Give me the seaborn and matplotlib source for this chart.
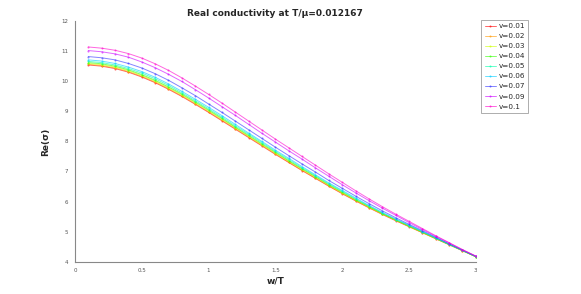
import numpy as np
import pandas as pd
import matplotlib
matplotlib.use('Agg')
import matplotlib.pyplot as plt
import seaborn as sns

# frecuencias w/T
w = [0.1, 0.2, 0.3, 0.4, 0.5, 0.6, 0.7, 0.8, 0.9, 1.0,
     1.1, 1.2, 1.3, 1.4, 1.5, 1.6, 1.7, 1.8, 1.9, 2.0,
     2.1, 2.2, 2.3, 2.4, 2.5, 2.6, 2.7, 2.8, 2.9, 3.0]

etiquetas = ['v=0.01', 'v=0.02', 'v=0.03', 'v=0.04', 'v=0.05',
             'v=0.06', 'v=0.07', 'v=0.09', 'v=0.1']

re_v001 = [10.55, 10.51, 10.43, 10.31, 10.15, 9.96, 9.74, 9.50, 9.24, 8.97,
           8.69, 8.41, 8.13, 7.85, 7.57, 7.30, 7.03, 6.77, 6.51, 6.26,
           6.02, 5.79, 5.57, 5.36, 5.16, 4.96, 4.76, 4.56, 4.36, 4.16]
re_v002 = [10.57, 10.53, 10.45, 10.33, 10.17, 9.98, 9.76, 9.52, 9.26, 8.99,
           8.71, 8.43, 8.15, 7.87, 7.59, 7.31, 7.04, 6.78, 6.52, 6.27,
           6.03, 5.80, 5.58, 5.37, 5.17, 4.96, 4.76, 4.56, 4.36, 4.16]
re_v003 = [10.60, 10.56, 10.48, 10.36, 10.20, 10.01, 9.79, 9.55, 9.29, 9.02,
           8.74, 8.46, 8.17, 7.89, 7.61, 7.34, 7.07, 6.81, 6.54, 6.29,
           6.05, 5.81, 5.59, 5.38, 5.17, 4.97, 4.77, 4.57, 4.36, 4.16]
re_v004 = [10.63, 10.59, 10.51, 10.39, 10.23, 10.04, 9.82, 9.58, 9.32, 9.05,
           8.77, 8.48, 8.20, 7.92, 7.64, 7.36, 7.09, 6.83, 6.56, 6.31,
           6.06, 5.83, 5.60, 5.39, 5.18, 4.98, 4.77, 4.57, 4.37, 4.16]
re_v005 = [10.67, 10.63, 10.55, 10.43, 10.28, 10.09, 9.87, 9.62, 9.36, 9.09,
           8.81, 8.52, 8.24, 7.96, 7.67, 7.40, 7.12, 6.86, 6.59, 6.34,
           6.09, 5.85, 5.62, 5.40, 5.20, 4.99, 4.78, 4.57, 4.37, 4.16]
re_v006 = [10.72, 10.68, 10.60, 10.48, 10.33, 10.14, 9.92, 9.67, 9.41, 9.14,
           8.86, 8.57, 8.28, 8.00, 7.71, 7.44, 7.16, 6.89, 6.62, 6.37,
           6.12, 5.87, 5.64, 5.42, 5.21, 5.00, 4.79, 4.58, 4.37, 4.17]
re_v007 = [10.83, 10.79, 10.72, 10.60, 10.45, 10.26, 10.04, 9.79, 9.53, 9.25,
           8.97, 8.68, 8.39, 8.10, 7.81, 7.53, 7.25, 6.98, 6.70, 6.44,
           6.18, 5.93, 5.69, 5.46, 5.24, 5.03, 4.81, 4.59, 4.38, 4.17]
re_v009 = [11.03, 10.99, 10.92, 10.81, 10.65, 10.46, 10.24, 10.00, 9.73, 9.45,
           9.16, 8.87, 8.57, 8.27, 7.98, 7.69, 7.41, 7.12, 6.84, 6.56,
           6.29, 6.03, 5.78, 5.54, 5.30, 5.07, 4.84, 4.62, 4.39, 4.18]
re_v010 = [11.15, 11.11, 11.04, 10.93, 10.78, 10.59, 10.37, 10.12, 9.85, 9.57,
           9.28, 8.98, 8.68, 8.38, 8.08, 7.79, 7.50, 7.21, 6.92, 6.64,
           6.36, 6.09, 5.83, 5.58, 5.34, 5.10, 4.86, 4.63, 4.40, 4.18]

series = [re_v001, re_v002, re_v003, re_v004, re_v005,
          re_v006, re_v007, re_v009, re_v010]

colores = ['#ff0000', '#ff9900', '#ccff00', '#33ff00', '#00ffaa',
           '#00ccff', '#3333ff', '#cc00ff', '#ff00cc']

# armar tabla larga
filas = []
for etq, vals in zip(etiquetas, series):
    for x, y in zip(w, vals):
        filas.append({'w': x, 'Re': y, 'v': etq})
df = pd.DataFrame(filas)

sns.set_style('white')
fig = plt.figure(figsize=(5.81, 2.94), dpi=100)
ax = fig.add_axes([0.129, 0.1105, 0.69, 0.8165])

sns.lineplot(data=df, x='w', y='Re', hue='v', hue_order=etiquetas,
             palette=dict(zip(etiquetas, colores)), marker='.', markersize=3,
             markeredgewidth=0, linewidth=0.7, alpha=0.6, ax=ax, legend=False)

ax.set_xlim(0, 3)
ax.set_ylim(4, 12)
ax.set_xticks([0, 0.5, 1, 1.5, 2, 2.5, 3])
ax.set_xticklabels(['0', '0.5', '1', '1.5', '2', '2.5', '3'])
ax.set_yticks(range(4, 13))
ax.tick_params(axis='both', direction='out', length=3, width=0.6,
               labelsize=4, colors='#555555', pad=2)
for lado in ['top', 'right']:
    ax.spines[lado].set_visible(False)
for lado in ['left', 'bottom']:
    ax.spines[lado].set_color('#888888')
    ax.spines[lado].set_linewidth(0.8)

ax.set_title('Real conductivity at T/\u03bc=0.012167', fontsize=6.5,
             fontweight='bold', pad=4)
ax.set_xlabel('w/T', fontsize=6.5, fontweight='bold', labelpad=2)
ax.set_ylabel('Re(\u03c3)', fontsize=6.5, fontweight='bold', labelpad=8)

# leyenda con las mismas lineas
lineas = ax.get_lines()[:len(etiquetas)]
leg = ax.legend(lineas, etiquetas, loc='upper left',
                bbox_to_anchor=(1.014, 1.006),
                fontsize=5.2, frameon=True, fancybox=False,
                borderaxespad=0, handlelength=1.6, labelspacing=0.55,
                borderpad=0.45, handletextpad=0.3)
leg.get_frame().set_edgecolor('#888888')
leg.get_frame().set_linewidth(0.6)

fig.savefig('out.png', dpi=100)
